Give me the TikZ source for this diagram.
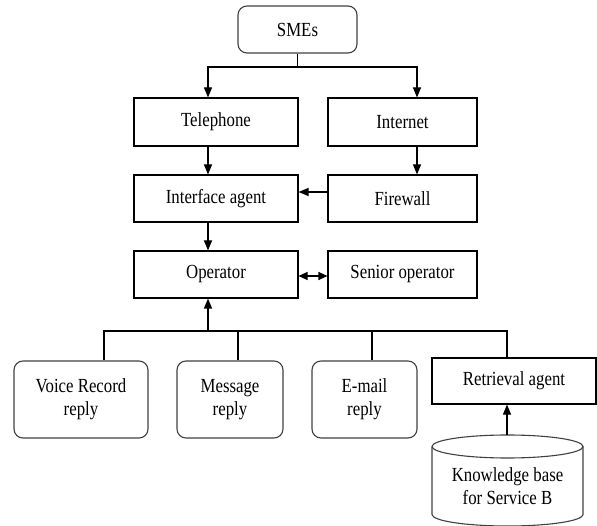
\documentclass[tikz,border=0pt]{standalone}
\usepackage{fontspec}
\setmainfont{Liberation Serif}[FakeStretch=0.84]
\usetikzlibrary{arrows.meta}
\begin{document}
\begin{tikzpicture}[x=1pt,y=-1pt,
  lw/.style={line width=1.1pt},
  box/.style={draw, lw, inner sep=0pt, align=center,
    font=\fontsize{20}{23}\selectfont},
  rbox/.style={box, rounded corners=9pt, draw=black!75},
  conn/.style={lw},
  arr/.style={lw, -{Triangle[length=10pt,width=8pt]}},
  darr/.style={lw, {Triangle[length=9pt,width=8pt]}-{Triangle[length=9pt,width=8pt]}}]
\useasboundingbox (0,0) rectangle (597,526);

% top part
\node[rbox, minimum width=119pt, minimum height=47pt] (sme) at (297.5,29.5) {SMEs};
\node[box, minimum width=164pt, minimum height=48pt] (tel)  at (216,122)   {Telephone};
\node[box, minimum width=149pt, minimum height=48pt] (inet) at (402.5,122) {Internet};
\node[box, minimum width=164pt, minimum height=47pt] (iface) at (216,198.5) {Interface agent};
\node[box, minimum width=149pt, minimum height=47pt] (fw)   at (402.5,198.5) {Firewall};
\node[box, minimum width=164pt, minimum height=47pt] (op)   at (216,274.5) {Operator};
\node[box, minimum width=149pt, minimum height=47pt] (sop)  at (402.5,274.5) {Senior operator};

% reply channels
\node[rbox, minimum width=134pt, minimum height=77pt] (voice) at (81,399.5)   {Voice Record\\reply};
\node[rbox, minimum width=106pt, minimum height=77pt] (msg)   at (230,399.5)  {Message\\reply};
\node[rbox, minimum width=105pt, minimum height=77pt] (mail)  at (364.5,399.5){E-mail\\reply};
\node[box,  minimum width=164pt, minimum height=46pt] (ret)   at (514,381)    {Retrieval agent};

% knowledge base cylinder
\draw[lw, draw=black!75] (507.5,446.5) ellipse [x radius=75.5pt, y radius=11.5pt];
\draw[lw, draw=black!75] (432,446.5) -- (432,514.5)
  arc[start angle=180, end angle=360, x radius=75.5pt, y radius=11.5pt] -- (583,446.5);
\node[align=center, inner sep=0pt, font=\fontsize{20}{23}\selectfont] (kb) at (507.5,486)
  {Knowledge base\\for Service B};
\coordinate (kbtop) at (507,435);

% connectors
\coordinate (split) at (297.5,67);
\draw[conn] (sme.south) -- (split);
\draw[arr] (split) -| ([xshift=-8pt]tel.north);
\draw[arr] (split) -| ([xshift=14.5pt]inet.north);
\draw[arr] ([xshift=-8pt]tel.south) -- ([xshift=-8pt]iface.north);
\draw[arr] ([xshift=14.5pt]inet.south) -- ([xshift=14.5pt]fw.north);
\draw[arr] ([yshift=6.5pt]fw.west) -- ([yshift=6.5pt]iface.east);
\draw[arr] ([xshift=-8pt]iface.south) -- ([xshift=-8pt]op.north);
\draw[darr] ([yshift=-1.5pt]op.east) -- ([yshift=-1.5pt]sop.west);

\coordinate (busR) at (507,331);
\coordinate (bus) at (208,331);
\draw[arr] (bus) -- ([xshift=-8pt]op.south);
\draw[conn] ([xshift=23pt]voice.north) |- (busR) -- ([xshift=-7pt]ret.north);
\draw[conn] ([xshift=8pt]msg.north) -- ([xshift=8pt]msg.north |- busR);
\draw[conn] ([xshift=7.5pt]mail.north) -- ([xshift=7.5pt]mail.north |- busR);
\draw[arr] (kbtop) -- ([xshift=-7pt]ret.south);
\end{tikzpicture}
\end{document}
